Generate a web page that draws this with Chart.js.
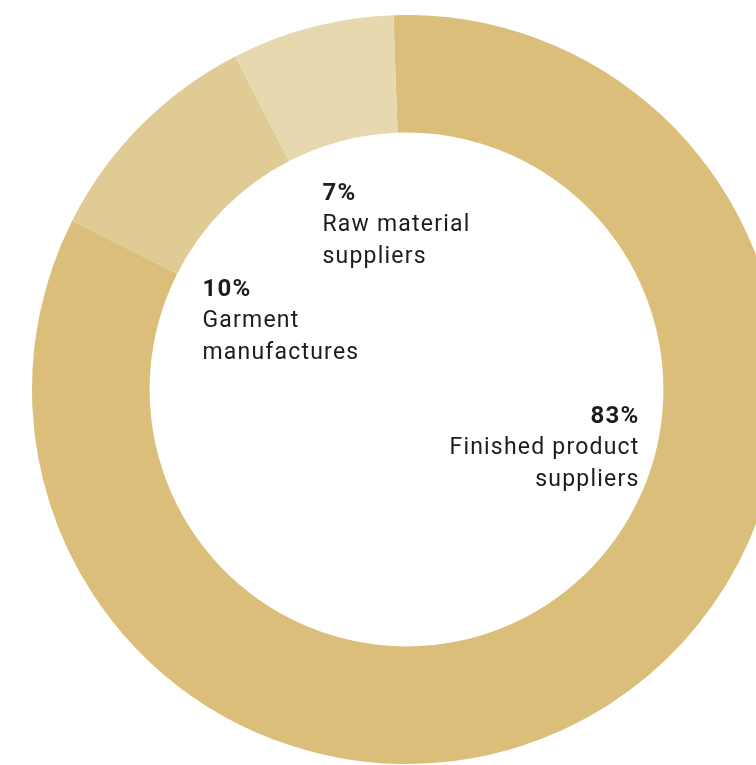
<!DOCTYPE html>
<html>
<head>
<meta charset="utf-8">
<script src="https://cdn.jsdelivr.net/npm/chart.js@4"></script>
<style>
  html, body { margin: 0; padding: 0; background: #fff; overflow: hidden; }
  body { width: 756px; height: 765px; position: relative; }
  #wrap { position: absolute; left: 32px; top: 15px; width: 749px; height: 749px; }
</style>
</head>
<body>
<div id="wrap"><canvas id="donut"></canvas></div>
<script>
// Supplier breakdown (percent)
const categorias = ['Finished product suppliers', 'Garment manufactures', 'Raw material suppliers'];
const valores = [83, 10, 7];
const colores = ['#DBBE7A', '#E0CB94', '#E8D8AF'];

// Label text for each slice: [percent line, text lines...]
const etiquetas = [
  ['83%', 'Finished product', 'suppliers'],
  ['10%', 'Garment', 'manufactures'],
  ['7%', 'Raw material', 'suppliers']
];
// where each label block sits, relative to the doughnut centre
const posEtiquetas = [
  { dx: 233, dy: 33, align: 'right' },
  { dx: -204, dy: -94, align: 'left' },
  { dx: -84, dy: -190, align: 'left' }
];

const pluginEtiquetas = {
  id: 'etiquetasCentro',
  afterDraw(chart) {
    const ctx = chart.ctx;
    const arc = chart.getDatasetMeta(0).data[0];
    const cx = arc.x, cy = arc.y;
    ctx.save();
    ctx.fillStyle = '#1c1c1c';
    ctx.textBaseline = 'alphabetic';
    ctx.letterSpacing = '1.2px';
    etiquetas.forEach((lineas, i) => {
      const p = posEtiquetas[i];
      ctx.textAlign = p.align;
      lineas.forEach((txt, j) => {
        ctx.font = (j === 0 ? 'bold 24px' : '23px') + ' Roboto';
        ctx.fillText(txt, cx + p.dx, cy + p.dy + j * 31.5);
      });
    });
    ctx.restore();
  }
};

new Chart(document.getElementById('donut').getContext('2d'), {
  type: 'doughnut',
  data: {
    labels: categorias,
    datasets: [{
      data: valores,
      backgroundColor: colores,
      borderWidth: 0,
      hoverOffset: 0
    }]
  },
  options: {
    responsive: true,
    maintainAspectRatio: false,
    animation: false,
    cutout: '68.6%',
    rotation: -2,
    layout: { padding: 0 },
    plugins: {
      legend: { display: false },
      tooltip: { enabled: false }
    }
  },
  plugins: [pluginEtiquetas]
});
</script>
</body>
</html>
